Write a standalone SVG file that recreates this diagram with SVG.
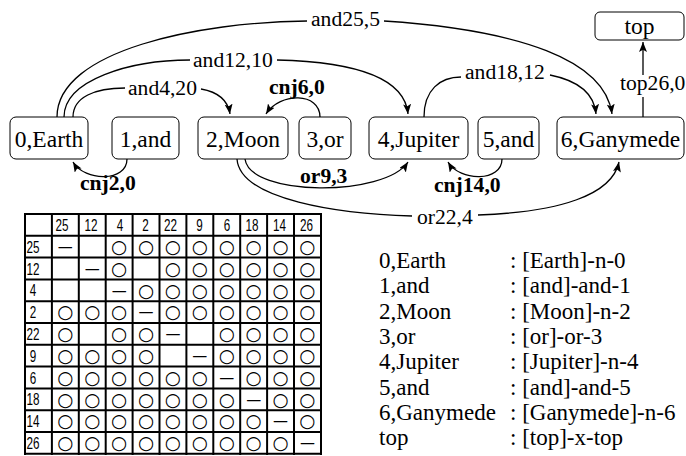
<svg xmlns="http://www.w3.org/2000/svg" width="686" height="456" viewBox="0 0 686 456">
  <style>
    .node rect { fill: #fff; stroke: #000; stroke-width: 1; }
    .node text { font-family: "Liberation Serif", "Times New Roman", serif; font-size: 23.5px; text-anchor: middle; fill: #000; }
    .edge { fill: none; stroke: #000; stroke-width: 1.3; }
    .arr { marker-end: url(#head); }
    .lbl { font-family: "Liberation Serif", "Times New Roman", serif; font-size: 21.6px; fill: #000; }
    .b { font-weight: bold; }
    .legend text { font-family: "Liberation Serif", "Times New Roman", serif; font-size: 23px; fill: #000; }
    .grid line { stroke: #000; stroke-width: 2; }
    .num { font-family: "Liberation Sans", Arial, sans-serif; font-size: 17px; text-anchor: middle; fill: #000; }
    .sym { font-family: "DejaVu Sans", sans-serif; font-size: 18.5px; text-anchor: middle; fill: #000; }
    .sym .d { font-size: 15px; }
  </style>
  <defs>
    <marker id="head" markerUnits="userSpaceOnUse" markerWidth="10" markerHeight="8" refX="10" refY="4" orient="auto">
      <path d="M0,0 L10,4 L0,8 L2.2,4 z" fill="#000"/>
    </marker>
  </defs>

  <!-- word nodes -->
  <g id="n0" class="node"><rect x="10" y="117" width="78" height="42" rx="6"/><text x="49" y="147">0,Earth</text></g>
  <g id="n1" class="node"><rect x="112" y="117" width="67" height="42" rx="6"/><text x="145.5" y="147">1,and</text></g>
  <g id="n2" class="node"><rect x="198" y="117" width="90" height="42" rx="6"/><text x="243" y="147">2,Moon</text></g>
  <g id="n3" class="node"><rect x="299" y="117" width="52" height="42" rx="6"/><text x="325" y="147">3,or</text></g>
  <g id="n4" class="node"><rect x="369" y="117" width="99" height="42" rx="6"/><text x="418.5" y="147">4,Jupiter</text></g>
  <g id="n5" class="node"><rect x="478" y="117" width="61" height="42" rx="6"/><text x="508.5" y="147">5,and</text></g>
  <g id="n6" class="node"><rect x="557" y="117" width="127" height="42" rx="6"/><text x="620.5" y="147">6,Ganymede</text></g>
  <g id="ntop" class="node"><rect x="595" y="12" width="89" height="28" rx="5"/><text x="639.5" y="34">top</text></g>

  <!-- dependency arcs -->
  <g id="connectors">
    <path class="edge" d="M57,117 C57,50 200,22 307,21"/>
    <path class="edge arr" d="M384,21 C520,30 605,60 612,114"/>
    <text class="lbl" x="311" y="26">and25,5</text>

    <path class="edge" d="M64,117 C64,80 130,60 190,60"/>
    <path class="edge arr" d="M277,60 C360,62 405,80 408,114"/>
    <text class="lbl" x="193" y="67">and12,10</text>

    <path class="edge" d="M73,117 C73,97 95,88 125,88"/>
    <path class="edge arr" d="M201,89 C218,92 228,100 230,114"/>
    <text class="lbl" x="128" y="95">and4,20</text>

    <path class="edge arr" d="M320,117 C320,92 280,92 266,114"/>
    <text class="lbl b" x="269" y="94">cnj6,0</text>

    <path class="edge" d="M424,117 C424,90 440,77 461,77"/>
    <path class="edge arr" d="M550,75 C575,80 594,92 596,114"/>
    <text class="lbl" x="465" y="79">and18,12</text>

    <path class="edge" d="M643,117 L643,97"/>
    <path class="edge arr" d="M643,75 L643,42"/>
    <text class="lbl" x="620" y="90">top26,0</text>

    <path class="edge arr" d="M127,159 C127,182 85,182 73,162"/>
    <text class="lbl b" x="80" y="190">cnj2,0</text>

    <path class="edge arr" d="M245,159 C250,197 385,197 408,162"/>
    <text class="lbl b" x="300" y="183">or9,3</text>

    <path class="edge arr" d="M502,159 C502,182 460,182 448,162"/>
    <text class="lbl b" x="434" y="192">cnj14,0</text>

    <path class="edge" d="M237,159 C240,200 340,214 412,216"/>
    <path class="edge arr" d="M478,215 C560,212 612,195 619,162"/>
    <text class="lbl" x="417" y="224">or22,4</text>
  </g>

  <!-- compatibility table -->
  <g id="table">
    <g class="grid">
      <line x1="25" y1="214" x2="321" y2="214"/>
      <line x1="25" y1="235.8" x2="321" y2="235.8"/>
      <line x1="25" y1="257.6" x2="321" y2="257.6"/>
      <line x1="25" y1="279.4" x2="321" y2="279.4"/>
      <line x1="25" y1="301.2" x2="321" y2="301.2"/>
      <line x1="25" y1="323" x2="321" y2="323"/>
      <line x1="25" y1="344.8" x2="321" y2="344.8"/>
      <line x1="25" y1="366.6" x2="321" y2="366.6"/>
      <line x1="25" y1="388.4" x2="321" y2="388.4"/>
      <line x1="25" y1="410.2" x2="321" y2="410.2"/>
      <line x1="25" y1="432" x2="321" y2="432"/>
      <line x1="25" y1="453.8" x2="321" y2="453.8"/>
      <line x1="25" y1="213" x2="25" y2="455"/>
      <line x1="51.9" y1="213" x2="51.9" y2="455"/>
      <line x1="78.8" y1="213" x2="78.8" y2="455"/>
      <line x1="105.7" y1="213" x2="105.7" y2="455"/>
      <line x1="132.6" y1="213" x2="132.6" y2="455"/>
      <line x1="159.5" y1="213" x2="159.5" y2="455"/>
      <line x1="186.4" y1="213" x2="186.4" y2="455"/>
      <line x1="213.3" y1="213" x2="213.3" y2="455"/>
      <line x1="240.2" y1="213" x2="240.2" y2="455"/>
      <line x1="267.1" y1="213" x2="267.1" y2="455"/>
      <line x1="294" y1="213" x2="294" y2="455"/>
      <line x1="321" y1="213" x2="321" y2="455"/>
    </g>
    <!-- header row -->
    <text class="num" x="62" y="231" textLength="13" lengthAdjust="spacingAndGlyphs">25</text>
    <text class="num" x="91" y="231" textLength="13" lengthAdjust="spacingAndGlyphs">12</text>
    <text class="num" x="120" y="231" textLength="6.5" lengthAdjust="spacingAndGlyphs">4</text>
    <text class="num" x="145.5" y="231" textLength="6.5" lengthAdjust="spacingAndGlyphs">2</text>
    <text class="num" x="170.5" y="231" textLength="13" lengthAdjust="spacingAndGlyphs">22</text>
    <text class="num" x="199.5" y="231" textLength="6.5" lengthAdjust="spacingAndGlyphs">9</text>
    <text class="num" x="227" y="231" textLength="6.5" lengthAdjust="spacingAndGlyphs">6</text>
    <text class="num" x="252" y="231" textLength="13" lengthAdjust="spacingAndGlyphs">18</text>
    <text class="num" x="279.5" y="231" textLength="13" lengthAdjust="spacingAndGlyphs">14</text>
    <text class="num" x="306.5" y="231" textLength="13" lengthAdjust="spacingAndGlyphs">26</text>
    <!-- row labels -->
    <text class="num" x="33" y="252.8" textLength="13" lengthAdjust="spacingAndGlyphs">25</text>
    <text class="num" x="33" y="274.6" textLength="13" lengthAdjust="spacingAndGlyphs">12</text>
    <text class="num" x="33" y="296.4" textLength="6.5" lengthAdjust="spacingAndGlyphs">4</text>
    <text class="num" x="33" y="318.2" textLength="6.5" lengthAdjust="spacingAndGlyphs">2</text>
    <text class="num" x="33" y="340" textLength="13" lengthAdjust="spacingAndGlyphs">22</text>
    <text class="num" x="33" y="361.8" textLength="6.5" lengthAdjust="spacingAndGlyphs">9</text>
    <text class="num" x="33" y="383.6" textLength="6.5" lengthAdjust="spacingAndGlyphs">6</text>
    <text class="num" x="33" y="405.4" textLength="13" lengthAdjust="spacingAndGlyphs">18</text>
    <text class="num" x="33" y="427.2" textLength="13" lengthAdjust="spacingAndGlyphs">14</text>
    <text class="num" x="33" y="449" textLength="13" lengthAdjust="spacingAndGlyphs">26</text>
    <!-- cell marks, one line per table row -->
    <g class="sym">
      <text class="d" x="65.35" y="252">—</text><text x="119.15" y="253">○</text><text x="146.05" y="253">○</text><text x="172.95" y="253">○</text><text x="199.85" y="253">○</text><text x="226.75" y="253">○</text><text x="253.65" y="253">○</text><text x="280.55" y="253">○</text><text x="307.45" y="253">○</text>
      <text class="d" x="92.25" y="273.8">—</text><text x="119.15" y="274.8">○</text><text x="172.95" y="274.8">○</text><text x="199.85" y="274.8">○</text><text x="226.75" y="274.8">○</text><text x="253.65" y="274.8">○</text><text x="280.55" y="274.8">○</text><text x="307.45" y="274.8">○</text>
      <text class="d" x="119.15" y="295.6">—</text><text x="146.05" y="296.6">○</text><text x="172.95" y="296.6">○</text><text x="199.85" y="296.6">○</text><text x="226.75" y="296.6">○</text><text x="253.65" y="296.6">○</text><text x="280.55" y="296.6">○</text><text x="307.45" y="296.6">○</text>
      <text x="65.35" y="318.4">○</text><text x="92.25" y="318.4">○</text><text x="119.15" y="318.4">○</text><text class="d" x="146.05" y="317.4">—</text><text x="172.95" y="318.4">○</text><text x="199.85" y="318.4">○</text><text x="226.75" y="318.4">○</text><text x="253.65" y="318.4">○</text><text x="280.55" y="318.4">○</text><text x="307.45" y="318.4">○</text>
      <text x="65.35" y="340.2">○</text><text x="119.15" y="340.2">○</text><text x="146.05" y="340.2">○</text><text class="d" x="172.95" y="339.2">—</text><text x="226.75" y="340.2">○</text><text x="253.65" y="340.2">○</text><text x="280.55" y="340.2">○</text><text x="307.45" y="340.2">○</text>
      <text x="65.35" y="362">○</text><text x="92.25" y="362">○</text><text x="119.15" y="362">○</text><text x="146.05" y="362">○</text><text class="d" x="199.85" y="361">—</text><text x="226.75" y="362">○</text><text x="253.65" y="362">○</text><text x="280.55" y="362">○</text><text x="307.45" y="362">○</text>
      <text x="65.35" y="383.8">○</text><text x="92.25" y="383.8">○</text><text x="119.15" y="383.8">○</text><text x="146.05" y="383.8">○</text><text x="172.95" y="383.8">○</text><text x="199.85" y="383.8">○</text><text class="d" x="226.75" y="382.8">—</text><text x="253.65" y="383.8">○</text><text x="280.55" y="383.8">○</text><text x="307.45" y="383.8">○</text>
      <text x="65.35" y="405.6">○</text><text x="92.25" y="405.6">○</text><text x="119.15" y="405.6">○</text><text x="146.05" y="405.6">○</text><text x="172.95" y="405.6">○</text><text x="199.85" y="405.6">○</text><text x="226.75" y="405.6">○</text><text class="d" x="253.65" y="404.6">—</text><text x="280.55" y="405.6">○</text><text x="307.45" y="405.6">○</text>
      <text x="65.35" y="427.4">○</text><text x="92.25" y="427.4">○</text><text x="119.15" y="427.4">○</text><text x="146.05" y="427.4">○</text><text x="172.95" y="427.4">○</text><text x="199.85" y="427.4">○</text><text x="226.75" y="427.4">○</text><text x="253.65" y="427.4">○</text><text class="d" x="280.55" y="426.4">—</text><text x="307.45" y="427.4">○</text>
      <text x="65.35" y="449.2">○</text><text x="92.25" y="449.2">○</text><text x="119.15" y="449.2">○</text><text x="146.05" y="449.2">○</text><text x="172.95" y="449.2">○</text><text x="199.85" y="449.2">○</text><text x="226.75" y="449.2">○</text><text x="253.65" y="449.2">○</text><text x="280.55" y="449.2">○</text><text class="d" x="307.45" y="448.2">—</text>
    </g>
  </g>

  <!-- node legend -->
  <g id="legend" class="legend">
    <text x="379" y="268">0,Earth</text><text x="510" y="268">: [Earth]-n-0</text>
    <text x="379" y="293.3">1,and</text><text x="510" y="293.3">: [and]-and-1</text>
    <text x="379" y="318.6">2,Moon</text><text x="510" y="318.6">: [Moon]-n-2</text>
    <text x="379" y="343.9">3,or</text><text x="510" y="343.9">: [or]-or-3</text>
    <text x="379" y="369.2">4,Jupiter</text><text x="510" y="369.2">: [Jupiter]-n-4</text>
    <text x="379" y="394.5">5,and</text><text x="510" y="394.5">: [and]-and-5</text>
    <text x="379" y="419.8">6,Ganymede</text><text x="510" y="419.8">: [Ganymede]-n-6</text>
    <text x="379" y="445.1">top</text><text x="510" y="445.1">: [top]-x-top</text>
  </g>
</svg>
